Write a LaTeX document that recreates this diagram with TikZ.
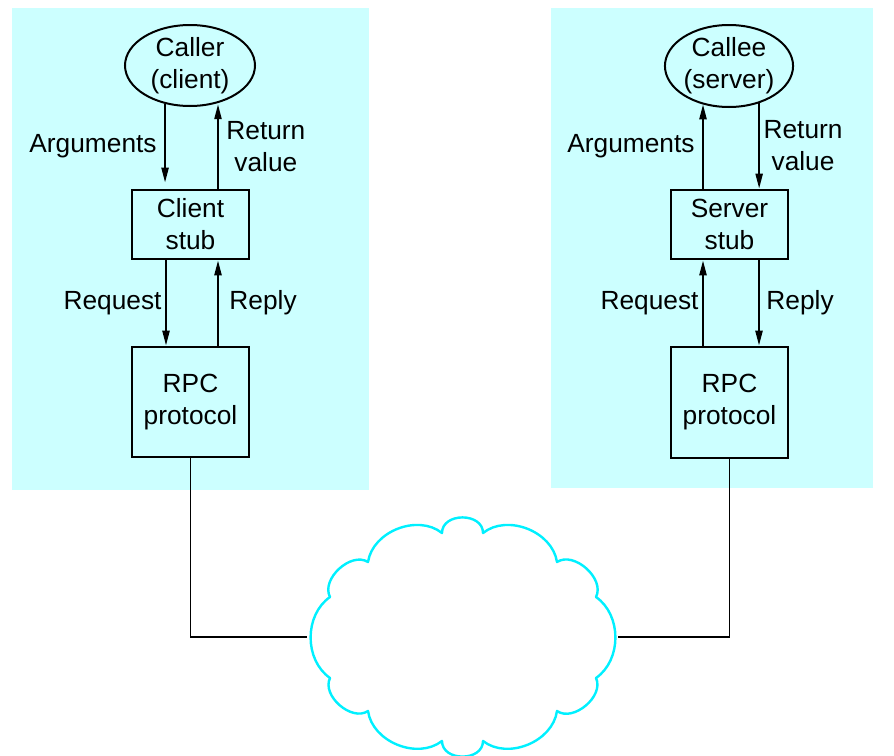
\documentclass[tikz,border=0pt]{standalone}
\usepackage{fontspec}
\setmainfont{Liberation Sans}
\usetikzlibrary{arrows.meta,shapes.geometric}
\definecolor{panel}{RGB}{204,255,255}
\definecolor{cloudline}{RGB}{0,240,255}
\begin{document}
\begin{tikzpicture}[x=1pt,y=-1pt,
  font=\fontsize{26.3}{32}\selectfont,
  procbox/.style={draw,line width=2.6pt,minimum width=117pt,align=center,inner sep=0pt},
  endpoint/.style={draw,ellipse,line width=2pt,align=center,inner sep=0pt},
  arr/.style={line width=2.2pt,-{Triangle[length=15pt,width=7pt]}},
  wire/.style={line width=1.8pt},
  cloudpath/.style={draw=cloudline,fill=white,line width=2.4pt,line join=round}]
\useasboundingbox (0,0) rectangle (894,755);
\clip (0,0) rectangle (894,755);

% shaded hosts
\fill[panel] (12,8) rectangle (369,490);
\fill[panel] (551,8) rectangle (873,488);

% client side
\node[endpoint,minimum width=130pt,minimum height=81pt] (caller) at (190,65.5) {Caller\\(client)};
\node[procbox,minimum height=69pt] (stubL) at (190.5,224.5) {Client\\stub};
\node[procbox,minimum height=110pt] (rpcL) at (190.5,402) {RPC\\protocol};

% server side
\node[endpoint,minimum width=128pt,minimum height=82pt] (callee) at (729,66) {Callee\\(server)};
\node[procbox,minimum height=69pt] (stubR) at (729.5,224.5) {Server\\stub};
\node[procbox,minimum height=111pt] (rpcR) at (729.5,402.5) {RPC\\protocol};

% network cloud
\coordinate (netW) at (307,637);
\coordinate (netE) at (618,637);
\path[cloudpath] (330,678) to[bend left=55] (330,597)
  to[bend left=75] (368,562)
  to[bend left=60] (442,533)
  to[bend left=90,looseness=1.3] (483,533)
  to[bend left=60] (557,562)
  to[bend left=75] (596,597)
  to[bend left=55] (596,678)
  to[bend left=75] (557,711)
  to[bend left=60] (483,741)
  to[bend left=90,looseness=1.3] (442,741)
  to[bend left=60] (368,711)
  to[bend left=75] (330,678) -- cycle;

% links to the network
\draw[wire] (rpcL.south) |- (netW);
\draw[wire] (rpcR.south) |- (netE);

% client calls
\draw[arr,shorten >=6pt] (caller.237.4) -- (caller.237.4 |- stubL.north)
  node[midway,left,xshift=-4pt] {Arguments};
\draw[arr] ([xshift=27.5pt]stubL.north) -- ([xshift=27.5pt]stubL.north |- caller.302.6)
  node[midway,right,align=center,xshift=4pt] {Return\\value};
\draw[arr] ([xshift=-24.5pt]stubL.south) -- ([xshift=-24.5pt]rpcL.north)
  node[midway,left] {Request};
\draw[arr] ([xshift=27.5pt]rpcL.north) -- ([xshift=27.5pt]stubL.south)
  node[midway,right,xshift=7pt] {Reply};

% server calls
\draw[arr] ([xshift=-26.5pt]stubR.north) -- ([xshift=-26.5pt]stubR.north |- callee.235.3)
  node[midway,left,xshift=-4pt] {Arguments};
\draw[arr] (callee.309.7) -- (callee.309.7 |- stubR.north)
  node[midway,right,align=center] {Return\\value};
\draw[arr] ([xshift=-26.5pt]rpcR.north) -- ([xshift=-26.5pt]stubR.south)
  node[midway,left] {Request};
\draw[arr] ([xshift=29.5pt]stubR.south) -- ([xshift=29.5pt]rpcR.north)
  node[midway,right,xshift=3pt] {Reply};
\end{tikzpicture}
\end{document}
